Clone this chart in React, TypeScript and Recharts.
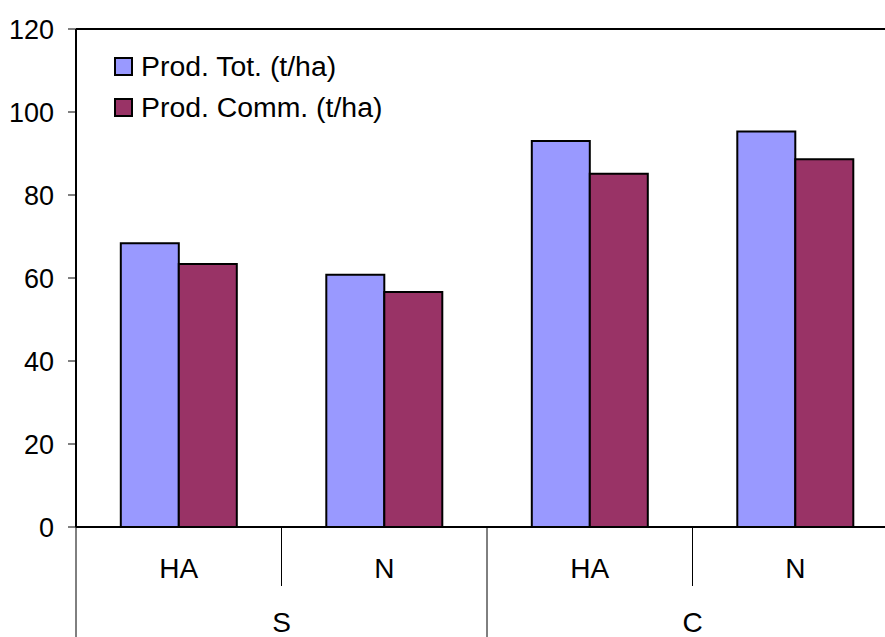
import React from "react";
import { BarChart, Bar, XAxis, YAxis, Legend, ReferenceLine } from "recharts";

const subCategories = ["HA", "N", "HA", "N"];
const groups = ["S", "S", "C", "C"];
const prodTot = [68.4, 60.8, 93.0, 95.3];
const prodComm = [63.4, 56.6, 85.1, 88.6];
const yTicks = [0, 20, 40, 60, 80, 100, 120];
const seriesNames = ["Prod. Tot. (t/ha)", "Prod. Comm. (t/ha)"];
const seriesColors = ["#9999FF", "#993366"];

const data = subCategories.map((s, i) => ({
  sub: s,
  group: groups[i],
  tot: prodTot[i],
  comm: prodComm[i],
}));

const W = 910;
const H = 637;
const margin = { top: 29, right: 12, bottom: 0, left: 0 };
const Y_AXIS_W = 76;
const X_AXIS_H = 110;
const FONT = "'Liberation Sans', Arial, sans-serif";
const band = (W - margin.left - margin.right - Y_AXIS_W) / data.length;

const XTick = (props: any) => {
  const { x, y, index, payload } = props;
  const firstInGroup = index === 0 || groups[index] !== groups[index - 1];
  let groupLabel = null;
  if (firstInGroup) {
    let n = 1;
    while (index + n < groups.length && groups[index + n] === groups[index]) n++;
    const gx = x - band / 2 + (n * band) / 2;
    groupLabel = (
      <text x={gx} y={y + 105} textAnchor="middle" fontSize={28} fontFamily={FONT} fill="#000">
        {groups[index]}
      </text>
    );
  }
  return (
    <g>
      <text x={x} y={y + 51} textAnchor="middle" fontSize={28} fontFamily={FONT} fill="#000">
        {payload.value}
      </text>
      {firstInGroup ? (
        <line x1={x - band / 2} x2={x - band / 2} y1={y} y2={y + X_AXIS_H} stroke="#000" strokeWidth={1} />
      ) : (
        <line x1={x - band / 2} x2={x - band / 2} y1={y} y2={y + 59} stroke="#000" strokeWidth={1} />
      )}
      {index === groups.length - 1 ? (
        <line x1={x + band / 2} x2={x + band / 2} y1={y} y2={y + X_AXIS_H} stroke="#000" strokeWidth={1} />
      ) : null}
      {groupLabel}
    </g>
  );
};

const LegendContent = () => (
  <svg width={420} height={90} style={{ display: "block", overflow: "visible" }}>
    {seriesNames.map((name, i) => (
      <g key={name} transform={`translate(0, ${i * 41})`}>
        <rect x={1} y={1} width={17} height={17} fill={seriesColors[i]} stroke="#000" strokeWidth={2} />
        <text x={27} y={19} fontSize={28.4} fontFamily={FONT} fill="#000">
          {name}
        </text>
      </g>
    ))}
  </svg>
);

export default function App() {
  return (
    <div style={{ position: "absolute", left: 0, top: 0, width: 885, height: 637, overflow: "hidden", background: "#fff" }}>
      <BarChart width={W} height={H} data={data} margin={margin} barCategoryGap="21.8%" barGap={0}>
        <ReferenceLine y={120} stroke="#000" strokeWidth={2} ifOverflow="visible" />
        <XAxis
          dataKey="sub"
          height={X_AXIS_H}
          tick={<XTick />}
          tickLine={false}
          tickSize={0}
          tickMargin={0}
          interval={0}
          axisLine={{ stroke: "#000", strokeWidth: 2 }}
        />
        <YAxis
          width={Y_AXIS_W}
          domain={[0, 120]}
          ticks={yTicks}
          interval={0}
          tickSize={8}
          tickMargin={14}
          axisLine={{ stroke: "#000", strokeWidth: 2 }}
          tickLine={{ stroke: "#000", strokeWidth: 1 }}
          tick={{ fontSize: 27, fontFamily: FONT, fill: "#000" }}
        />
        <Legend
          layout="vertical"
          align="center"
          verticalAlign="middle"
          content={<LegendContent />}
          wrapperStyle={{ position: "absolute", left: 114, top: 57, width: 420, height: 90 }}
        />
        <Bar dataKey="tot" name={seriesNames[0]} fill={seriesColors[0]} stroke="#000" strokeWidth={2} isAnimationActive={false} />
        <Bar dataKey="comm" name={seriesNames[1]} fill={seriesColors[1]} stroke="#000" strokeWidth={2} isAnimationActive={false} />
      </BarChart>
    </div>
  );
}
